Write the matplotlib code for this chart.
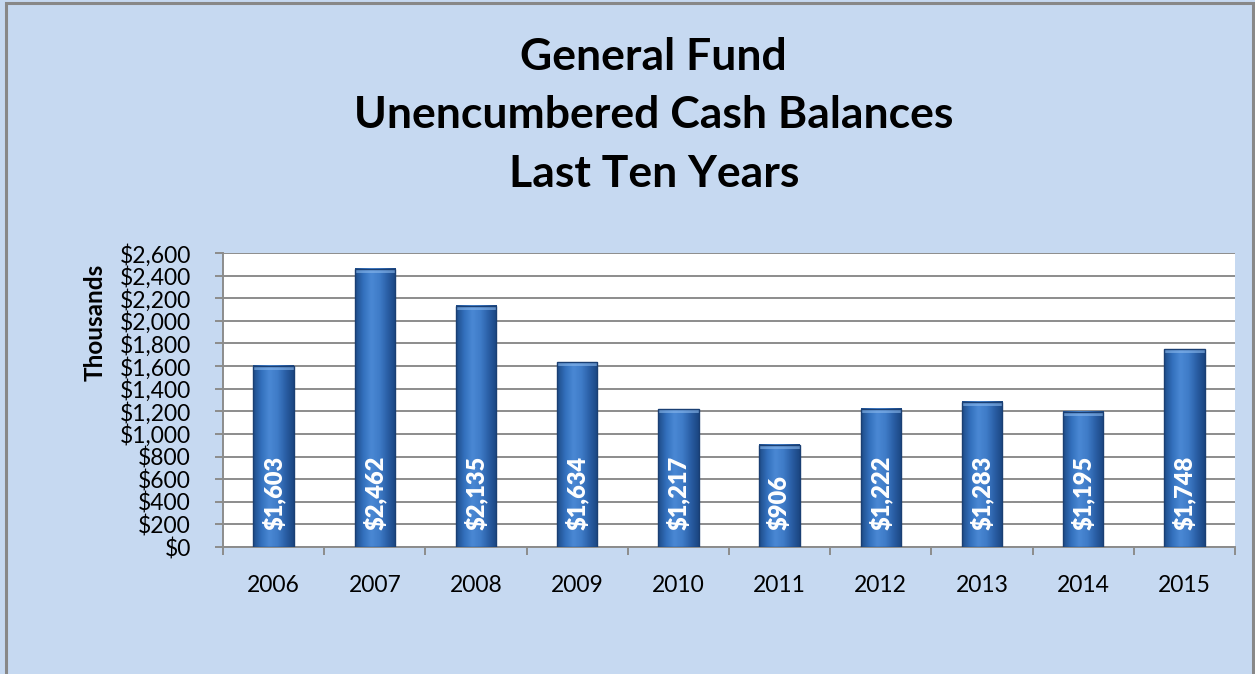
import matplotlib.pyplot as plt
import numpy as np
from matplotlib.colors import LinearSegmentedColormap
from matplotlib.patches import Rectangle

years = ["2006", "2007", "2008", "2009", "2010", "2011", "2012", "2013", "2014", "2015"]
balances = [1603, 2462, 2135, 1634, 1217, 906, 1222, 1283, 1195, 1748]
y_ticks = list(range(0, 2601, 200))

plt.rcParams['font.family'] = ['Lato', 'DejaVu Sans']

bg = "#C6D9F1"
fig = plt.figure(figsize=(12.55, 6.74), dpi=100, facecolor=bg)

# thin grey frame around the chart (bottom edge runs off the page)
frame = Rectangle((0.0047, -0.05), 0.9936, 1.045, transform=fig.transFigure,
                  facecolor='none', edgecolor='#888888', linewidth=2.2)
fig.patches.append(frame)

ax = fig.add_axes([0.1777, 0.1884, 0.8063, 0.4362])
ax.set_facecolor('white')

x = np.arange(len(years))
width = 0.4

bar_cmap = LinearSegmentedColormap.from_list(
    "bar", ["#1E4C88", "#3370BD", "#4A88D4", "#3F7CC8", "#2A5FA6", "#1B4681"])
grad = np.linspace(0, 1, 64).reshape(1, -1)

for xi, v in zip(x, balances):
    # soft shadow beneath each bar
    ax.add_patch(Rectangle((xi - width / 2 + 0.02, -25), width, 25,
                           facecolor='#9AA9BF', alpha=0.35, edgecolor='none', zorder=2))
    ax.imshow(grad, cmap=bar_cmap, aspect='auto', interpolation='bicubic',
              extent=(xi - width / 2, xi + width / 2, 0, v), zorder=3)
    # lighter bevel along the top
    ax.add_patch(Rectangle((xi - width / 2, v - 35), width, 35,
                           facecolor='#8AB8EC', alpha=0.6, edgecolor='none', zorder=4))
    ax.add_patch(Rectangle((xi - width / 2, 0), width, v, facecolor='none',
                           edgecolor='#1A3F73', linewidth=1.0, zorder=5))
    ax.text(xi, 150, "${:,}".format(v), rotation=90, ha='center', va='bottom',
            color='white', fontsize=17, fontweight='heavy', zorder=6)

ax.set_xlim(-0.5, len(years) - 0.5)
ax.set_ylim(0, 2600)

ax.set_yticks(y_ticks)
ax.set_yticklabels(["${:,}".format(t) for t in y_ticks], fontsize=16.5)
ax.yaxis.grid(True, color='#8C8C8C', linewidth=1.4, zorder=0)
ax.set_axisbelow(True)

ax.set_xticks(x)
ax.set_xticklabels(years, fontsize=16.5)
ax.set_xticks(np.arange(-0.5, len(years)), minor=True)
ax.tick_params(axis='x', which='major', length=0, pad=20)
ax.tick_params(axis='x', which='minor', length=6, width=1.4, color='#8C8C8C')
ax.tick_params(axis='y', length=6, width=1.4, color='#8C8C8C', pad=17)

for side in ['top', 'right']:
    ax.spines[side].set_visible(False)
for side in ['left', 'bottom']:
    ax.spines[side].set_color('#8C8C8C')
    ax.spines[side].set_linewidth(1.4)

fig.text(0.0757, 0.522, "Thousands", rotation=90, ha='center', va='center',
         fontsize=17.5, fontweight='bold')

for y, line in zip([0.916, 0.829, 0.742],
                   ["General Fund", "Unencumbered Cash Balances", "Last Ten Years"]):
    fig.text(0.521, y, line, ha='center', va='center', fontsize=32, fontweight='bold')

fig.savefig("out.png", dpi=100, facecolor=bg)
